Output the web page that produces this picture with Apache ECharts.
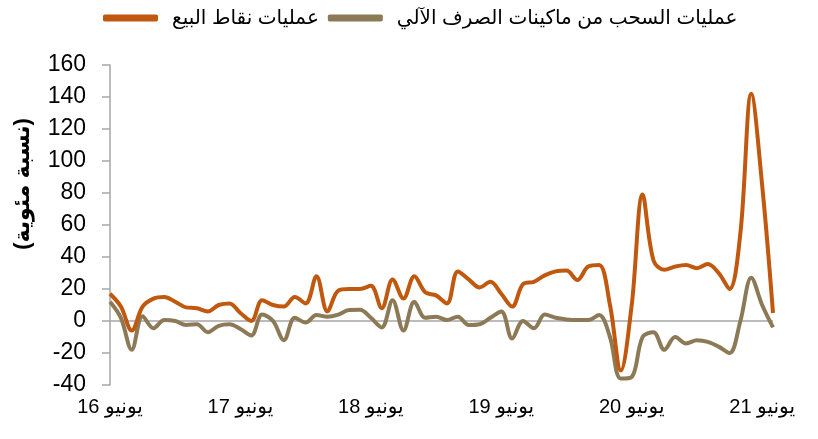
<!DOCTYPE html>
<html>
<head>
<meta charset="utf-8">
<script src="https://cdn.jsdelivr.net/npm/echarts@6/dist/echarts.min.js"></script>
<style>
	html, body { margin: 0; padding: 0; background: #fff; }
	#chart { width: 818px; height: 439px; }
</style>
</head>
<body>
<div id="chart"></div>
<script>
// months from June 2016 to July 2021
var monthNames = ['يناير', 'فبراير', 'مارس', 'أبريل', 'مايو', 'يونيو', 'يوليو', 'أغسطس', 'سبتمبر', 'أكتوبر', 'نوفمبر', 'ديسمبر'];
var categories = [];
for (var k = 0; k < 62; k++) {
	var m = (5 + k) % 12;
	var y = 16 + Math.floor((5 + k) / 12);
	categories.push(monthNames[m] + ' ' + y);
}

var seriesNames = ['عمليات نقاط البيع', 'عمليات السحب من ماكينات الصرف الآلي'];
var yTicks = [-40, 160, 20];

// عمليات نقاط البيع
var posData = [17, 9, -6, 9, 14, 15, 12, 8.5, 8, 6, 10, 11,
	5, 0, 13, 10, 9, 15, 11, 28, 6, 19, 20, 20,
	22, 8, 26, 14, 28, 18, 16, 11, 31, 26, 21, 24.5,
	17, 9, 23, 24.5, 28.5, 31, 31.5, 25.6, 34, 35, 10, -31,
	10, 79, 38, 32, 34, 35, 33, 35.6, 30, 20, 55, 142,
	85, 5];
// عمليات السحب من ماكينات الصرف الآلي
var atmData = [12, 2, -18, 3, -4.5, 0.6, 0, -2.5, -2, -7, -3, -2,
	-5, -9, 4, 0, -12, 2, -1, 3.7, 2.7, 4, 6.9, 7,
	2, -4, 13, -6, 12, 2, 2.7, 0.6, 2.7, -2.5, -2, 2,
	6, -11, 0, -4.5, 4, 2, 1, 0.6, 0.6, 3.7, -10, -36,
	-35, -10, -7, -18, -10, -14, -12, -13, -16, -20, 0, 27,
	10, -4];

var font = 'Liberation Sans, Arial, DejaVu Sans, sans-serif';
var chart = echarts.init(document.getElementById('chart'));

var option = {
	animation: false,
	color: ['#C0590F', '#8C7A56'],
	textStyle: { fontFamily: font },
	legend: {
		top: 3,
		left: 98,
		itemWidth: 55,
		itemHeight: 7,
		itemGap: 9,
		icon: 'roundRect',
		textStyle: { fontSize: 20, color: '#000', fontFamily: font, padding: [0, 0, 0, 9] },
		data: seriesNames
	},
	graphic: [{
		type: 'text',
		x: 23,
		y: 184,
		rotation: Math.PI / 2,
		style: {
			text: '(نسبة مئوية)',
			fontSize: 22,
			fontWeight: 'bold',
			fontFamily: font,
			fill: '#000',
			textAlign: 'center',
			textVerticalAlign: 'middle'
		}
	}],
	grid: { left: 110, right: 45, top: 65, bottom: 54 },
	xAxis: {
		type: 'category',
		data: categories,
		boundaryGap: false,
		axisLine: { show: false, onZero: false },
		axisTick: { show: false },
		axisLabel: {
			interval: 11,
			fontSize: 20,
			color: '#000',
			margin: 12,
			formatter: function (v, i) { return i % 12 === 0 ? v : ''; }
		},
		splitLine: { show: false }
	},
	yAxis: {
		type: 'value',
		min: yTicks[0],
		max: yTicks[1],
		interval: yTicks[2],
		axisLine: { show: true, lineStyle: { color: '#A6A6A6', width: 1.5 } },
		axisTick: { show: true, inside: false, length: 8, lineStyle: { color: '#A6A6A6', width: 1.5 } },
		axisLabel: { fontSize: 23, color: '#000', margin: 24 },
		splitLine: { show: false }
	},
	series: [{
		name: seriesNames[0],
		type: 'line',
		data: posData,
		smooth: 0.35,
		symbol: 'none',
		lineStyle: { width: 4 },
		z: 3
	}, {
		name: seriesNames[1],
		type: 'line',
		data: atmData,
		smooth: 0.35,
		symbol: 'none',
		lineStyle: { width: 4 },
		z: 2,
		markLine: {
			silent: true,
			symbol: 'none',
			label: { show: false },
			lineStyle: { color: '#A6A6A6', width: 1.5, type: 'solid' },
			data: [{ yAxis: 0 }],
			z: 1
		}
	}]
};
chart.setOption(option);
</script>
</body>
</html>
